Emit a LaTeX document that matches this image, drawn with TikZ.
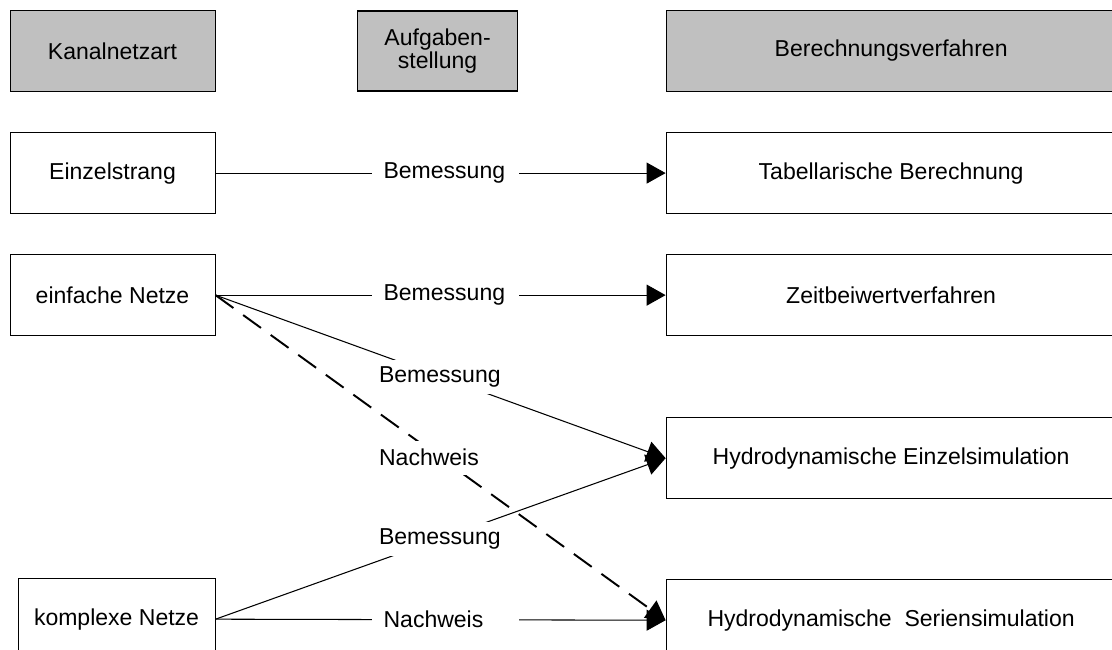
\documentclass[tikz,border=0pt]{standalone}
\usepackage{fontspec}
\setmainfont{Liberation Sans}
\usepackage{tikz}
\usetikzlibrary{positioning, arrows.meta}
\definecolor{kopfgrau}{RGB}{192,192,192}

\begin{document}
\begin{tikzpicture}[node distance=0.8cm,
    every node/.style={font=\fontsize{13.1pt}{15.7pt}\selectfont},
    box/.style={draw, line width=0.6pt, minimum height=1.62cm, inner sep=0pt},
    kopf/.style={box, fill=kopfgrau},
    lab/.style={fill=white, text width=2.46cm, align=left, inner xsep=0.24cm, minimum height=0.68cm},
    pfeil/.style={line width=0.6pt, -{Triangle[length=0.38cm, width=0.42cm]}}]
    \useasboundingbox (0,0) rectangle (22.24,-13);
    % Kopfzeile
    \node[kopf, minimum width=4.1cm, anchor=north west] (kanal) at (0.19,-0.2) {Kanalnetzart};
    \node[kopf, minimum width=3.2cm, minimum height=1.6cm, align=center, font=\fontsize{13.1pt}{12pt}\selectfont, right=2.83cm of kanal] (aufgabe) {Aufgaben-\\stellung};
    \node[kopf, minimum width=9cm, right=2.95cm of aufgabe] (verfahren) {Berechnungsverfahren};
    % Kanalnetzarten
    \node[box, minimum width=4.1cm, below=of kanal] (einzel) {Einzelstrang};
    \node[box, minimum width=4.1cm, below=of einzel] (einfach) {einfache Netze};
    \node[box, minimum width=3.94cm, below left=4.84cm and 0cm of einfach.south east] (komplex) {komplexe Netze};
    % Verfahren
    \node[box, minimum width=9cm, below=of verfahren] (tabelle) {Tabellarische Berechnung};
    \node[box, minimum width=9cm, below=of tabelle] (zeitbw) {Zeitbeiwertverfahren};
    \node[box, minimum width=9cm, below=1.62cm of zeitbw] (einzelsim) {Hydrodynamische Einzelsimulation};
    \node[box, minimum width=9cm, below=1.6cm of einzelsim] (seriensim) {Hydrodynamische\ \ Seriensimulation};
    % Verbindungen
    \draw[pfeil] (einzel.east) -- node[lab, pos=0.51] {Bemessung} (tabelle.west);
    \draw[pfeil] (einfach.east) -- node[lab, pos=0.51] {Bemessung} (zeitbw.west);
    \draw[pfeil] (einfach.east) -- node[lab] {Bemessung} (einzelsim.west);
    \draw[pfeil, line width=1.1pt, dash pattern=on 0.44cm off 0.24cm] (einfach.east) -- node[lab] {Nachweis} (seriensim.west);
    \draw[pfeil] (komplex.east) -- node[lab] {Bemessung} (einzelsim.west);
    \draw[pfeil] (komplex.east) -- node[lab, pos=0.51] {Nachweis} (seriensim.west);
\end{tikzpicture}
\end{document}
